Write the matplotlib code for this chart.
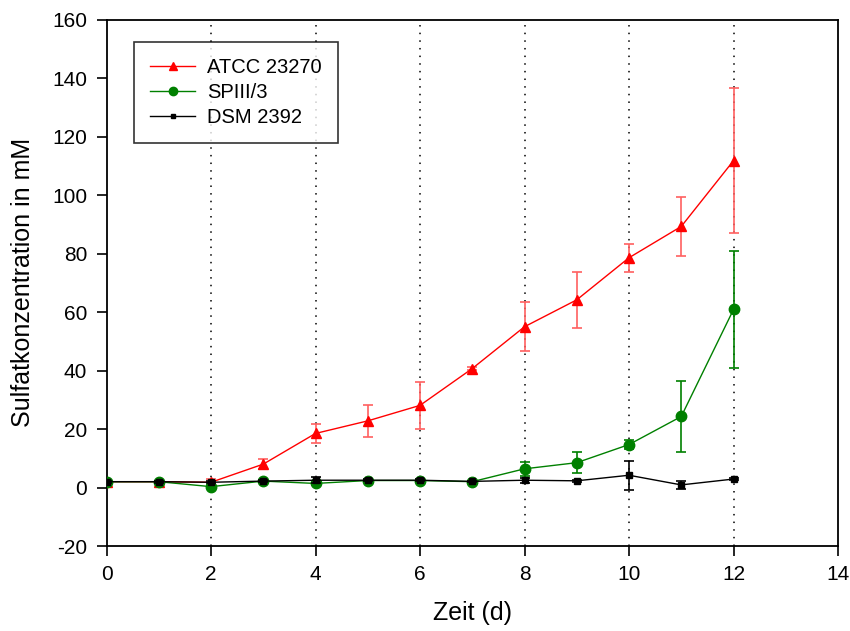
import matplotlib
matplotlib.use("Agg")
import matplotlib.pyplot as plt
from matplotlib.lines import Line2D

plt.rcParams['font.family'] = ['Liberation Sans', 'DejaVu Sans']
plt.rcParams['axes.unicode_minus'] = False

days = [0, 1, 2, 3, 4, 5, 6, 7, 8, 9, 10, 11, 12]

atcc = [2.0, 2.0, 1.8, 8.0, 18.5, 22.8, 28.1, 40.7, 55.0, 64.2, 78.6, 89.3, 111.8]
atcc_err = [0.3, 0.3, 1.0, 1.6, 3.1, 5.6, 8.0, 0.5, 8.3, 9.6, 4.8, 10.0, 24.7]

sp = [2.0, 2.0, 0.3, 2.2, 1.4, 2.4, 2.4, 2.0, 6.4, 8.5, 14.7, 24.3, 60.9]
sp_err = [0.3, 0.3, 0.5, 0.3, 0.6, 0.3, 0.3, 0.3, 2.3, 3.6, 1.5, 12.2, 20.1]

dsm = [2.0, 2.0, 1.8, 2.2, 2.5, 2.5, 2.5, 2.1, 2.5, 2.3, 4.2, 0.9, 2.9]
dsm_err = [0.3, 0.3, 0.4, 0.3, 1.0, 0.4, 0.3, 0.3, 0.8, 0.3, 4.9, 1.5, 0.3]

series_names = ["ATCC 23270", "SPIII/3", "DSM 2392"]
grid_x = [2, 4, 6, 8, 10, 12]
x_ticks = [0, 2, 4, 6, 8, 10, 12, 14]
y_ticks = [-20, 0, 20, 40, 60, 80, 100, 120, 140, 160]

fig = plt.figure(figsize=(8.5, 6.31), dpi=100)
ax = fig.add_axes([0.1253, 0.1347, 0.8606, 0.834])

for gx in grid_x:
    ax.axvline(gx, color='black', linestyle=(0, (1, 4)), linewidth=1.1, zorder=0)

styles = [
    dict(color='#ff0000', ecolor='#ff6060', marker='^', markersize=7.5),
    dict(color='#008000', ecolor='#008000', marker='o', markersize=7.5),
    dict(color='black', ecolor='black', marker='s', markersize=5),
]
data = [(atcc, atcc_err), (sp, sp_err), (dsm, dsm_err)]

handles = []
for i, ((vals, errs), st) in enumerate(zip(data, styles)):
    ax.errorbar(days, vals, yerr=errs, color=st['color'], ecolor=st['ecolor'],
                marker=st['marker'], markersize=st['markersize'], linewidth=1,
                elinewidth=1.2, capsize=3.5, capthick=1.2, zorder=3 + i)
    handles.append(Line2D([], [], color=st['color'], marker=st['marker'],
                          markersize=st['markersize'] - 1.5, linewidth=1,
                          label=series_names[i]))

ax.set_xlim(0, 14)
ax.set_ylim(-20, 160)
ax.set_xticks(x_ticks)
ax.set_yticks(y_ticks)
ax.tick_params(direction='out', length=7, width=1.2, labelsize=15, pad=7)
for s in ax.spines.values():
    s.set_linewidth(1.3)

ax.set_xlabel("Zeit (d)", fontsize=18, labelpad=12)
ax.set_ylabel("Sulfatkonzentration in mM", fontsize=18, labelpad=12)

leg = ax.legend(handles=handles, loc='upper left', bbox_to_anchor=(0.038, 0.958),
                fontsize=14.5, frameon=True, fancybox=False, edgecolor='black',
                borderpad=0.8, labelspacing=0.3, handlelength=2.2,
                handletextpad=0.6, borderaxespad=0)
leg.get_frame().set_linewidth(1.2)

fig.savefig("out.png", dpi=100)
